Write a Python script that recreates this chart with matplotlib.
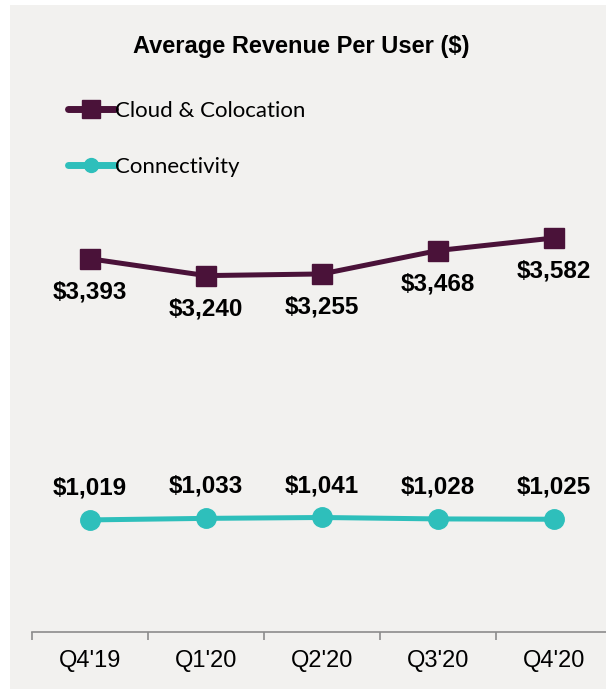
import matplotlib
matplotlib.use("Agg")
import matplotlib.pyplot as plt
from matplotlib.patches import Rectangle
from matplotlib.lines import Line2D
import numpy as np

categories = ["Q4'19", "Q1'20", "Q2'20", "Q3'20", "Q4'20"]
cloud = [3393, 3240, 3255, 3468, 3582]
connectivity = [1019, 1033, 1041, 1028, 1025]
series_names = ["Cloud & Colocation", "Connectivity"]

W, H = 606, 689
fig = plt.figure(figsize=(W / 100, H / 100), dpi=100, facecolor="white")
bg = "#F2F1EF"
fig.add_artist(Rectangle((10 / W, 0), 1 - 10 / W, 1 - 5 / H, transform=fig.transFigure,
                         facecolor=bg, edgecolor="none", zorder=0))

left, right = 32 / W, 1.0
bottom, top = 1 - 632 / H, 1 - 82 / H
ax = fig.add_axes([left, bottom, right - left, top - bottom])
ax.set_facecolor("none")

x = np.arange(len(categories))
c1 = "#4A1239"
c2 = "#2EBFBB"
ax.plot(x, cloud, color=c1, lw=3.6, marker="s", markersize=14, zorder=3)
ax.plot(x, connectivity, color=c2, lw=3.6, marker="o", markersize=14, zorder=3)

ax.set_ylim(0, 5000)
ax.set_xlim(-0.5, -0.5 + (W - 32) / 116)

lab_font = dict(family="Liberation Sans", weight="bold", size=17.5)
for xi, v in zip(x, cloud):
    ax.annotate(f"${v:,}", (xi, v), xytext=(0, -24), textcoords="offset points",
                ha="center", va="center", **lab_font)
for xi, v in zip(x, connectivity):
    ax.annotate(f"${v:,}", (xi, v), xytext=(0, 23), textcoords="offset points",
                ha="center", va="center", **lab_font)

for s in ["top", "left", "right"]:
    ax.spines[s].set_visible(False)
ax.spines["bottom"].set_color("#8C8C8C")
ax.spines["bottom"].set_linewidth(1.2)
ax.set_yticks([])
ax.set_xticks(np.arange(len(categories)) - 0.5)
ax.set_xticklabels([])
ax.tick_params(axis="x", which="major", length=6, color="#8C8C8C", width=1.2, direction="out")
ax.set_xticks(x, minor=True)
ax.set_xticklabels(categories, minor=True, fontfamily="Liberation Sans", fontsize=17)
ax.tick_params(axis="x", which="minor", length=0, pad=13)

fig.text(301 / W, 1 - 46 / H, "Average Revenue Per User ($)", ha="center", va="center",
         fontfamily="Liberation Sans", fontweight="bold", fontsize=17)

h1 = Line2D([], [], color=c1, lw=5, marker="s", markersize=12.5, solid_capstyle="round")
h2 = Line2D([], [], color=c2, lw=5, marker="o", markersize=10, solid_capstyle="round")
leg = fig.legend(handles=[h1, h2], labels=series_names, loc="upper left",
                 bbox_to_anchor=(68 / W, 1 - 101 / H),
                 frameon=False, prop=dict(family="Lato", size=16), handlelength=2.1,
                 handletextpad=0.0, labelspacing=1.6, numpoints=1, borderpad=0, borderaxespad=0)

fig.savefig("out.png", dpi=100, facecolor="white")
